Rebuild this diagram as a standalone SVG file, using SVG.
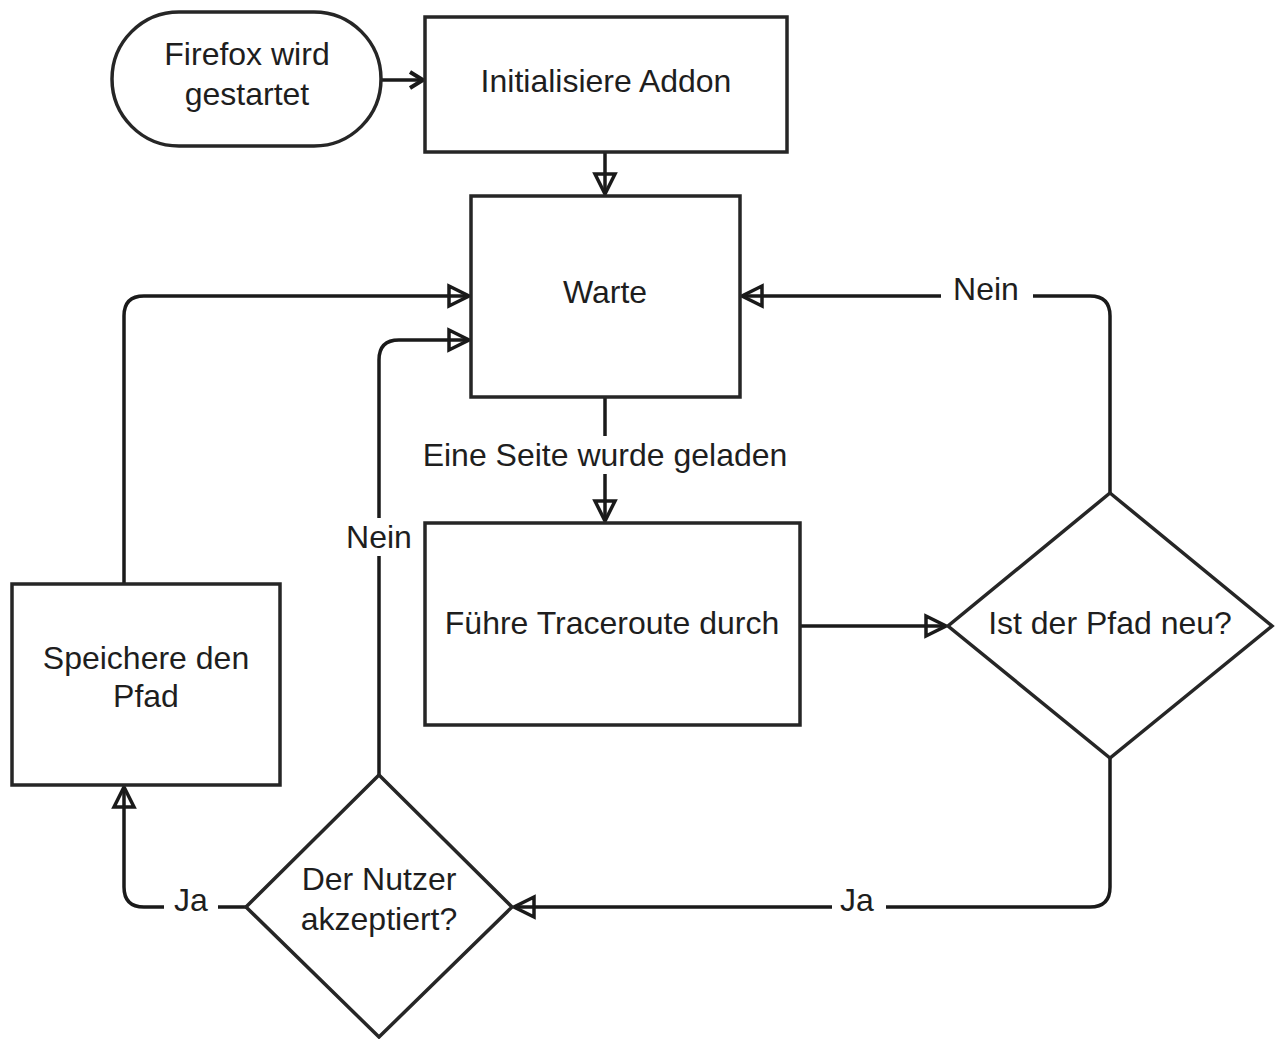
<svg xmlns="http://www.w3.org/2000/svg" width="1275" height="1039" viewBox="0 0 1275 1039">
<defs>
<style>
.s{fill:#fff;stroke:#262626;stroke-width:3.5}
.c{fill:none;stroke:#1a1a1a;stroke-width:3.5}
.t{font-family:"Liberation Sans",Arial,sans-serif;font-size:32px;fill:#1e1e1e;text-anchor:middle}
.lb{fill:#fff;stroke:none}
</style>
<marker id="open" markerWidth="26" markerHeight="26" viewBox="0 0 26 26" refX="23" refY="13" orient="auto" markerUnits="userSpaceOnUse">
<path d="M3,3 L23,13 L3,23 Z" fill="none" stroke="#1a1a1a" stroke-width="3.5" stroke-linejoin="miter"/>
</marker>
<marker id="solid" markerWidth="22" markerHeight="22" viewBox="0 0 22 22" refX="19" refY="11" orient="auto" markerUnits="userSpaceOnUse">
<path d="M6,3 L19,11 L6,19" fill="none" stroke="#1a1a1a" stroke-width="4"/>
</marker>
</defs>
<rect width="1275" height="1039" fill="#fff"/>
<g id="connectors">
<path class="c" d="M381,80 L423,80" marker-end="url(#solid)"/>
<path class="c" d="M605,152 L605,194" marker-end="url(#open)"/>
<path class="c" d="M605,397 L605,521" marker-end="url(#open)"/>
<path class="c" d="M800,626 L946,626" marker-end="url(#open)"/>
<path class="c" d="M1110,493 L1110,316 Q1110,296 1090,296 L742,296" marker-end="url(#open)"/>
<path class="c" d="M1110,758 L1110,887 Q1110,907 1090,907 L514,907" marker-end="url(#open)"/>
<path class="c" d="M379,775 L379,360 Q379,340 399,340 L469,340" marker-end="url(#open)"/>
<path class="c" d="M246,907 L144,907 Q124,907 124,887 L124,787" marker-end="url(#open)"/>
<path class="c" d="M124,584 L124,316 Q124,296 144,296 L469,296" marker-end="url(#open)"/>
<rect class="lb" x="416" y="436" width="378" height="38"/>
<text class="t" x="605" y="466">Eine Seite wurde geladen</text>
<rect class="lb" x="941" y="272" width="92" height="38"/>
<text class="t" x="986" y="300">Nein</text>
<rect class="lb" x="832" y="882" width="54" height="38"/>
<text class="t" x="857" y="911">Ja</text>
<rect class="lb" x="335" y="518" width="88" height="38"/>
<text class="t" x="379" y="548">Nein</text>
<rect class="lb" x="164" y="882" width="54" height="38"/>
<text class="t" x="191" y="911">Ja</text>
</g>
<g id="start">
<rect class="s" x="112" y="12" width="269" height="134" rx="67" ry="67"/>
<text class="t" x="247" y="65">Firefox wird</text>
<text class="t" x="247" y="105">gestartet</text>
</g>
<g id="init">
<rect class="s" x="425" y="17" width="362" height="135"/>
<text class="t" x="606" y="92">Initialisiere Addon</text>
</g>
<g id="warte">
<rect class="s" x="471" y="196" width="269" height="201"/>
<text class="t" x="605" y="303">Warte</text>
</g>
<g id="traceroute">
<rect class="s" x="425" y="523" width="375" height="202"/>
<text class="t" x="612" y="634">Führe Traceroute durch</text>
</g>
<g id="pfadneu">
<path class="s" d="M1110,493 L1272,626 L1110,758 L948,626 Z"/>
<text class="t" x="1110" y="634">Ist der Pfad neu?</text>
</g>
<g id="nutzer">
<path class="s" d="M379,775 L512,907 L379,1037 L246,907 Z"/>
<text class="t" x="379" y="890">Der Nutzer</text>
<text class="t" x="379" y="930">akzeptiert?</text>
</g>
<g id="speichere">
<rect class="s" x="12" y="584" width="268" height="201"/>
<text class="t" x="146" y="669">Speichere den</text>
<text class="t" x="146" y="707">Pfad</text>
</g>
</svg>
